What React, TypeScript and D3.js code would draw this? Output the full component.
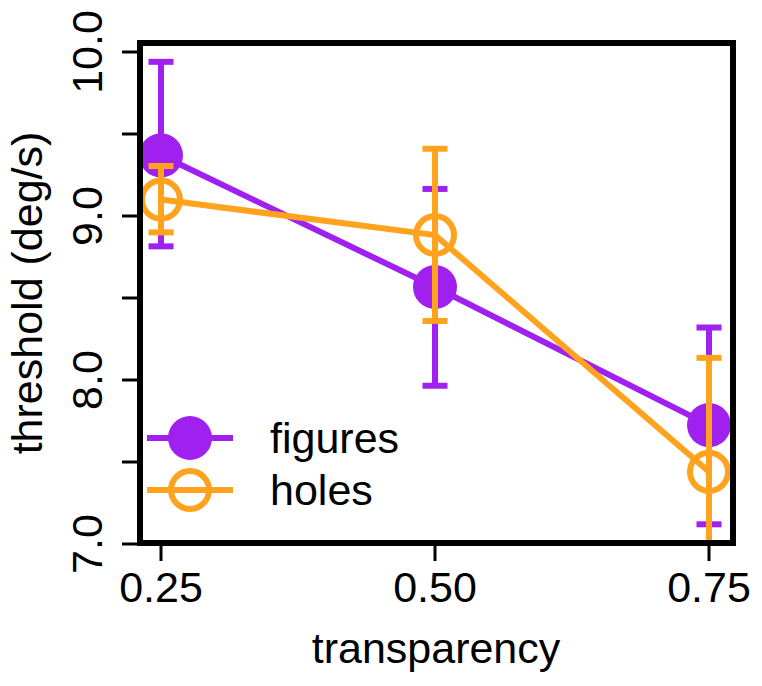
import React from "react";
import * as d3 from "d3";

const transparency = [0.25, 0.5, 0.75];
const xTicks = [0.25, 0.5, 0.75];
const xTickLabels = ["0.25", "0.50", "0.75"];
const yTicks = [7, 7.5, 8, 8.5, 9, 9.5, 10];
const yTickLabels = [
  { v: 7, t: "7.0" },
  { v: 8, t: "8.0" },
  { v: 9, t: "9.0" },
  { v: 10, t: "10.0" },
];

const figuresMean = [9.37, 8.567, 7.725];
const figuresUpper = [9.94, 9.165, 8.32];
const figuresLower = [8.815, 7.965, 7.12];

const holesMean = [9.1, 8.884, 7.44];
const holesUpper = [9.305, 9.41, 8.135];
const holesLower = [8.9, 8.36, 6.75];

const PURPLE = "#a020f0";
const ORANGE = "#ffa31f";
const FONT = "'Liberation Sans', Arial, Helvetica, sans-serif";

export default function App() {
  const W = 762;
  const H = 686;
  const box = { left: 140, right: 733, top: 43, bottom: 543 };
  const x = d3.scaleLinear().domain([0.25, 0.75]).range([161, 709]);
  const y = d3.scaleLinear().domain([7, 10]).range([544, 52]);
  const line = d3
    .line<number>()
    .x((_, i) => x(transparency[i]))
    .y((d) => y(d));

  const series = [
    { name: "figures", mean: figuresMean, up: figuresUpper, lo: figuresLower, color: PURPLE, filled: true },
    { name: "holes", mean: holesMean, up: holesUpper, lo: holesLower, color: ORANGE, filled: false },
  ];

  const lw = 6;
  const r = 22;
  const capHalf = 12.5;

  return (
    <svg
      width={W}
      height={H}
      style={{ position: "absolute", left: 0, top: 0, background: "#fff" }}
      fontFamily={FONT}
    >
      <defs>
        <clipPath id="plotClip">
          <rect x={box.left} y={box.top} width={box.right - box.left} height={box.bottom - box.top} />
        </clipPath>
      </defs>
      <rect x={0} y={0} width={W} height={H} fill="#fff" />
      <g clipPath="url(#plotClip)">
        {series.map((s) => (
          <g key={s.name}>
            <path d={line(s.mean) || ""} fill="none" stroke={s.color} strokeWidth={lw} />
            {transparency.map((t, i) => (
              <g key={i} stroke={s.color} strokeWidth={lw}>
                <line x1={x(t)} x2={x(t)} y1={y(s.up[i])} y2={y(s.lo[i])} />
                <line x1={x(t) - capHalf} x2={x(t) + capHalf} y1={y(s.up[i])} y2={y(s.up[i])} />
                <line x1={x(t) - capHalf} x2={x(t) + capHalf} y1={y(s.lo[i])} y2={y(s.lo[i])} />
              </g>
            ))}
            {transparency.map((t, i) =>
              s.filled ? (
                <circle key={"p" + i} cx={x(t)} cy={y(s.mean[i])} r={r} fill={s.color} />
              ) : (
                <circle key={"p" + i} cx={x(t)} cy={y(s.mean[i])} r={r - 3} fill="none" stroke={s.color} strokeWidth={lw} />
              )
            )}
          </g>
        ))}
        {/* legend */}
        {series.map((s, i) => {
          const ly = 438 + i * 52;
          return (
            <g key={"lg" + s.name}>
              <line x1={147} x2={233} y1={ly} y2={ly} stroke={s.color} strokeWidth={lw} />
              {s.filled ? (
                <circle cx={190} cy={ly} r={r} fill={s.color} />
              ) : (
                <circle cx={190} cy={ly} r={r - 3} fill="none" stroke={s.color} strokeWidth={lw} />
              )}
              <text x={270} y={ly + 15} fontSize={43} fill="#000">
                {s.name}
              </text>
            </g>
          );
        })}
      </g>
      {/* box */}
      <rect
        x={box.left}
        y={box.top}
        width={box.right - box.left}
        height={box.bottom - box.top}
        fill="none"
        stroke="#000"
        strokeWidth={6}
      />
      {/* y axis ticks */}
      {yTicks.map((v) => (
        <line key={v} x1={122} x2={box.left} y1={y(v)} y2={y(v)} stroke="#000" strokeWidth={3} />
      ))}
      {yTickLabels.map((d) => (
        <text
          key={d.t}
          transform={`translate(102,${y(d.v)}) rotate(-90)`}
          textAnchor="middle"
          fontSize={43}
          fill="#000"
        >
          {d.t}
        </text>
      ))}
      {/* x axis ticks */}
      {xTicks.map((v, i) => (
        <g key={v}>
          <line x1={x(v)} x2={x(v)} y1={box.bottom} y2={561} stroke="#000" strokeWidth={3} />
          <text x={x(v)} y={602} textAnchor="middle" fontSize={43} fill="#000">
            {xTickLabels[i]}
          </text>
        </g>
      ))}
      <text x={436} y={663} textAnchor="middle" fontSize={43} fill="#000">
        transparency
      </text>
      <text
        transform={`translate(42,${(box.top + box.bottom) / 2}) rotate(-90)`}
        textAnchor="middle"
        fontSize={43}
        fill="#000"
      >
        threshold (deg/s)
      </text>
    </svg>
  );
}
